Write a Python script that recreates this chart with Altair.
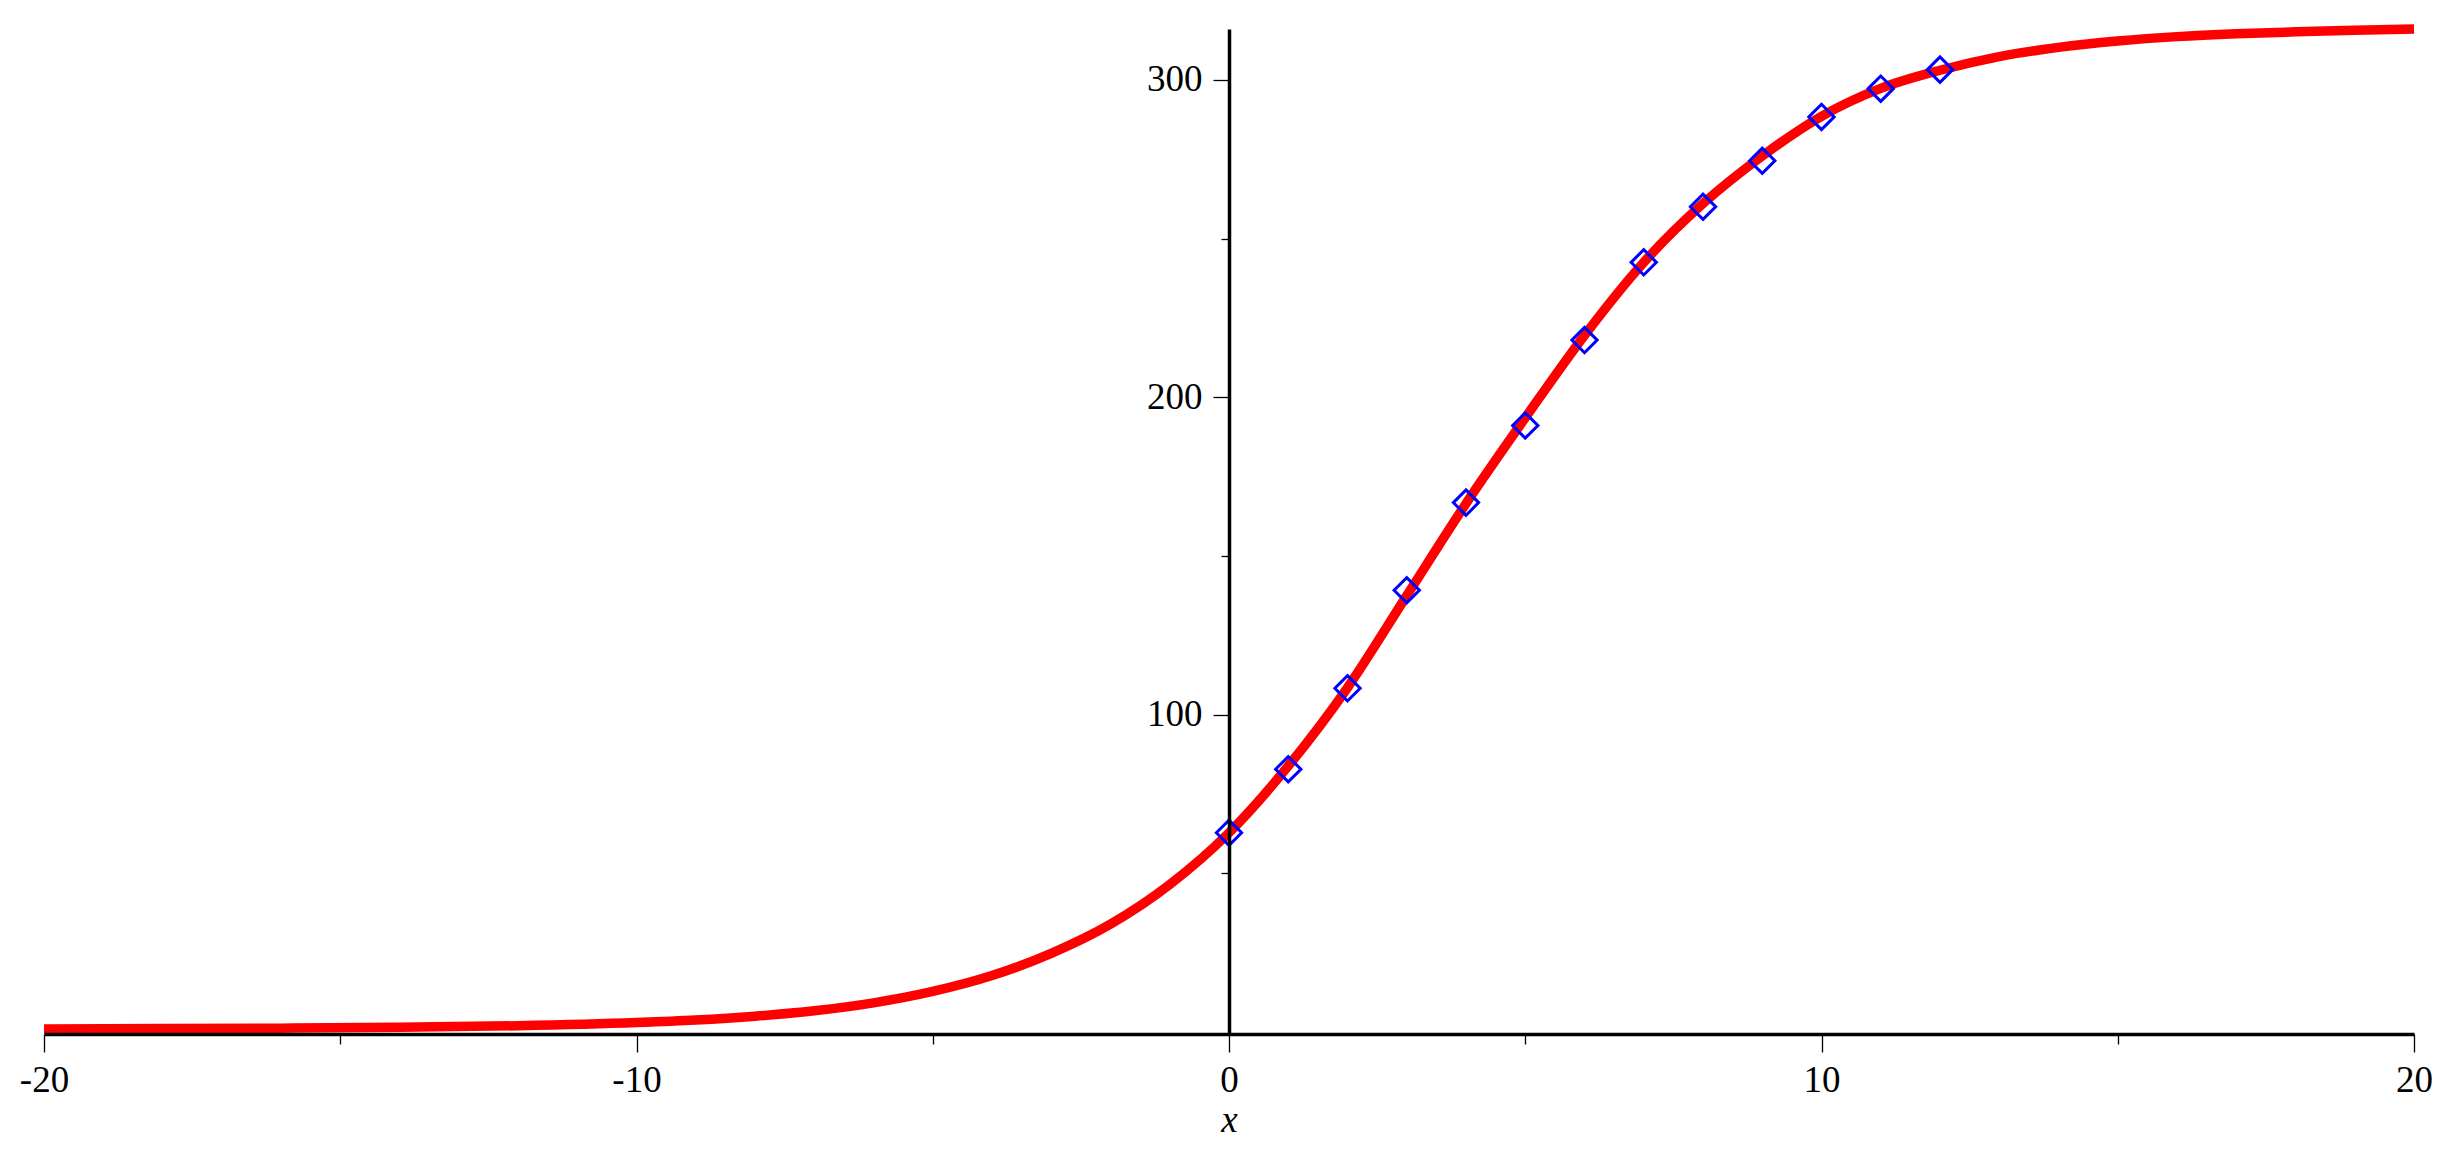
import altair as alt
import pandas as pd

# fitted curve
curve_x = [-20, -18, -16, -14, -12, -10, -9, -8, -7, -6, -5, -4, -3, -2, -1,
           0, 1, 2, 3, 4, 5, 6, 7, 8, 9, 10, 11, 12, 13, 14, 15, 16, 17, 18, 19, 20]
curve_y = [1.0, 1.1, 1.25, 1.5, 2.0, 3.0, 3.8, 5.0, 6.7, 9.2, 12.8, 17.8, 24.8, 34.0, 46.5,
           62.8, 83.8, 108.5, 137.5, 166.5, 193.5, 219.5, 242.5, 261.0, 276.0, 288.5,
           297.3, 303.0, 307.3, 310.2, 312.2, 313.6, 314.5, 315.1, 315.6, 316.0]

# data points (diamonds)
point_x = [0, 1, 2, 3, 4, 5, 6, 7, 8, 9, 10, 11, 12]
point_y = [62.8, 82.8, 108.3, 139.2, 166.8, 191.1, 218.0, 242.5, 260.0, 274.5, 288.3, 297.2, 303.2]

x_ticks = [-20, -15, -10, -5, 0, 5, 10, 15, 20]
y_ticks = [50, 100, 150, 200, 250, 300]

W = 2370
H = 1005
FONT = "Liberation Serif"

curve_df = pd.DataFrame({"x": curve_x, "y": curve_y})
pts_df = pd.DataFrame({"x": point_x, "y": point_y})

xscale = alt.Scale(domain=[-20, 20], nice=False, zero=False)
yscale = alt.Scale(domain=[-0.6, 316], nice=False, zero=False)

x_axis = alt.Axis(
    values=x_ticks,
    title="x",
    titleFont=FONT,
    titleFontStyle="italic",
    titleFontWeight="normal",
    titleFontSize=37,
    titleColor="black",
    titleY=97,
    titleBaseline="alphabetic",
    labelExpr="datum.value % 10 === 0 ? '' + datum.value : ''",
    labelFont=FONT,
    labelFontSize=37,
    labelColor="black",
    labelPadding=10,
    labelFlush=False,
    labelOverlap=False,
    tickSize={"expr": "datum.value % 10 === 0 ? 18 : 10"},
    tickWidth=1.3,
    tickColor="black",
    domainColor="black",
    domainWidth=3.5,
    grid=False,
    zindex=1,
)

y_axis = alt.Axis(
    values=y_ticks,
    title="",
    orient="left",
    offset=-W / 2,
    labelExpr="datum.value % 100 === 0 ? '' + datum.value : ''",
    labelFont=FONT,
    labelFontSize=37,
    labelColor="black",
    labelPadding=11,
    labelOverlap=False,
    tickSize={"expr": "datum.value % 100 === 0 ? 16 : 8"},
    tickWidth=1.3,
    tickColor="black",
    domainColor="black",
    domainWidth=3.5,
    grid=False,
    zindex=1,
)

curve = alt.Chart(curve_df).mark_line(
    color="#ff0000", strokeWidth=9.5, interpolate="monotone"
).encode(
    x=alt.X("x:Q", scale=xscale, axis=x_axis),
    y=alt.Y("y:Q", scale=yscale, axis=y_axis),
)

points = alt.Chart(pts_df).mark_point(
    shape="diamond", filled=False, size=640, strokeWidth=3, color="#0000ff", opacity=1
).encode(
    x=alt.X("x:Q", scale=xscale),
    y=alt.Y("y:Q", scale=yscale),
)

chart = alt.layer(curve, points).properties(
    width=W,
    height=H,
    autosize=alt.AutoSizeParams(type="none"),
    padding={"left": 36, "top": 21, "right": 24, "bottom": 111},
    background="white",
).configure_view(strokeWidth=0)

chart.save("out.html", embed_options={"renderer": "svg", "actions": False})
